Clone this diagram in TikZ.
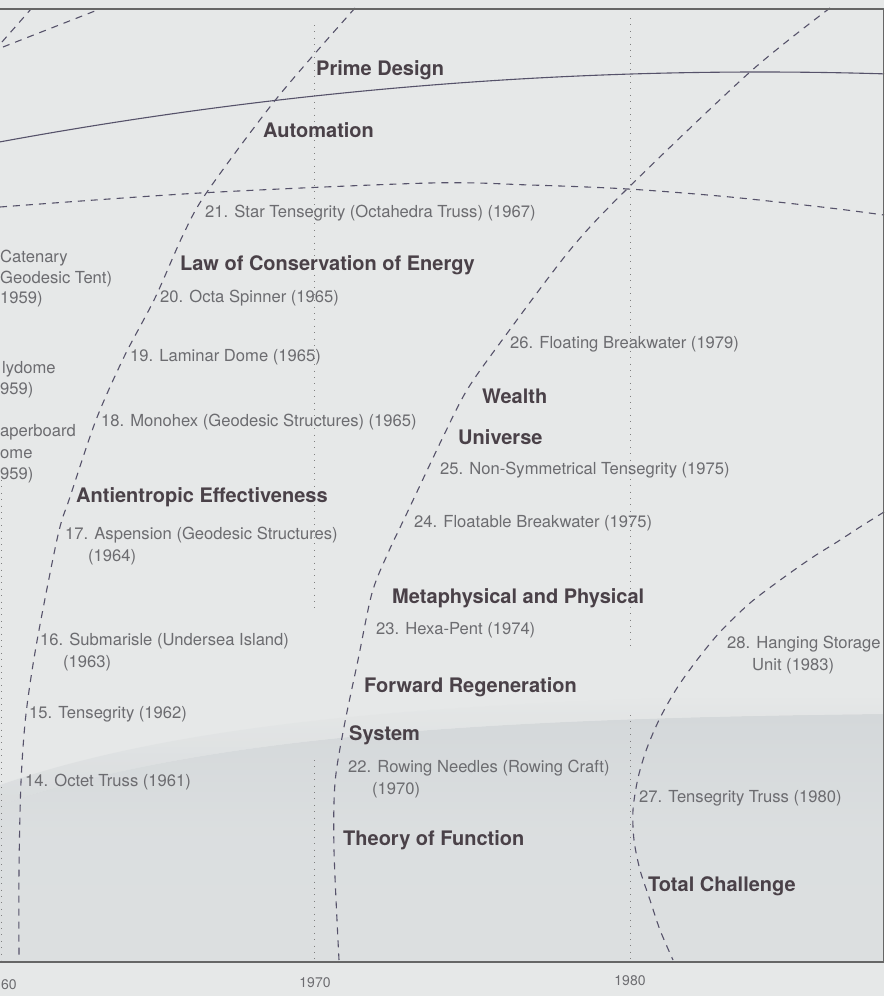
\documentclass[tikz,border=0pt]{standalone}
\usepackage{fontspec}
\setmainfont{TeX Gyre Heros}
\definecolor{arcline}{HTML}{56526A}
\definecolor{headtext}{HTML}{4A4148}
\definecolor{itemtext}{HTML}{6C6C70}
\definecolor{paper}{HTML}{E6E8E8}
\definecolor{shadowtop}{HTML}{D4D8DA}
\definecolor{shadowbottom}{HTML}{DCDFE0}

\begin{document}
\begin{tikzpicture}[x=1pt, y=-1pt,
    dashedarc/.style={arcline, line width=1.1pt, dash pattern=on 7pt off 6pt},
    yearline/.style={gray, line width=0.9pt, dash pattern=on 0.9pt off 5.5pt},
    heading/.style={headtext, font=\fontsize{20}{23}\selectfont\bfseries, anchor=west, inner sep=0pt},
    entry/.style={itemtext, font=\fontsize{16.6}{22}\selectfont, anchor=west, inner sep=0pt, align=left},
    yearlabel/.style={itemtext, font=\fontsize{14}{16}\selectfont, inner sep=0pt}]
    \useasboundingbox (0,0) rectangle (884,996);
    \fill[paper] (0,0) rectangle (884,996);
    \shade[top color=shadowtop, bottom color=shadowbottom, middle color=shadowtop!60!paper]
        (0,805) .. controls (200,735) and (500,718) .. (884,714) -- (884,962) -- (0,962) -- cycle;
    \shade[top color=paper, bottom color=shadowtop, opacity=0.7]
        (0,785) .. controls (200,715) and (500,698) .. (884,694) -- (884,714) .. controls (500,718) and (200,735) .. (0,805) -- cycle;

    \draw[yearline] (1,480) -- (1,960);
    \draw[yearline] (314,25) -- (314,610);
    \draw[yearline] (314,760) -- (314,960);
    \draw[yearline] (630,18) -- (630,650);
    \draw[yearline] (630,715) -- (630,960);

    \draw[arcline, line width=1.1pt, domain=0:884, samples=120, smooth, variable=\x]
        plot ({\x}, {72 + 1.21*((\x-760)/100)^2});

    \draw[dashedarc] plot[smooth] coordinates {(0,207) (200,193) (430,183) (530,185) (628,189) (730,197) (830,208) (884,215)};
    \draw[dashedarc] (2,42) -- (31,9);
    \draw[dashedarc] (3,47) -- (100,9);
    \draw[dashedarc] plot[smooth] coordinates {(355,8) (277,98) (207,192) (183,235) (155,298) (124,357) (96,420) (70,497) (58,535) (37,641) (26,714) (21,782) (19,870) (19,960)};
    \draw[dashedarc] plot[smooth] coordinates {(830,8) (750,72) (627,189) (570,250) (500,343) (467,390) (443,437) (407,513) (388,553) (372,593) (358,660) (344,727) (335,783) (334,850) (339,960)};
    \draw[dashedarc] plot[smooth] coordinates {(884,512) (860,527) (837,542) (813,557) (783,578) (750,603) (720,632) (697,660) (677,688) (660,718) (647,748) (638,778) (633,810) (634,840) (640,870) (650,900) (660,930) (673,960)};

    \draw[gray!80!black, line width=1.4pt] (0,9) -- (884,9);
    \draw[gray!80!black, line width=1.4pt] (0,962) -- (884,962);
    \draw[gray!80!black, line width=1pt] (883,9) -- (883,962);

    \node[heading] (prime) at (316,70) {Prime Design};
    \node[heading] (automation) at (263,130) {Automation};
    \node[entry] (n21) at (205,213) {21. Star Tensegrity (Octahedra Truss) (1967)};
    \node[heading] (law) at (180,265) {Law of Conservation of Energy};
    \node[entry] (n20) at (160,298) {20. Octa Spinner (1965)};
    \node[entry] (n19) at (130,357) {19. Laminar Dome (1965)};
    \node[entry] (n18) at (101,422) {18. Monohex (Geodesic Structures) (1965)};
    \node[entry] (catenary) at (0,258) {Catenary};
    \node[entry] (tent) at (0,279) {Geodesic Tent)};
    \node[entry] (year13) at (0,299) {1959)};
    \node[entry] (polydome) at (2,369) {lydome};
    \node[entry] (year12) at (0,390) {959)};
    \node[entry] (paperboard) at (0,432) {aperboard};
    \node[entry] (dome) at (0,454) {ome};
    \node[entry] (year11) at (0,475) {959)};
    \node[heading] (antientropic) at (76,497) {Antientropic Effectiveness};
    \node[entry] (n17) at (65,546) {17. Aspension (Geodesic Structures)\\\hspace*{23pt}(1964)};
    \node[entry] (n16) at (40,652) {16. Submarisle (Undersea Island)\\\hspace*{23pt}(1963)};
    \node[entry] (n15) at (29,714) {15. Tensegrity (1962)};
    \node[entry] (n14) at (25,782) {14. Octet Truss (1961)};
    \node[entry] (n26) at (510,344) {26. Floating Breakwater (1979)};
    \node[heading] (wealth) at (482,396) {Wealth};
    \node[heading] (universe) at (458,437) {Universe};
    \node[entry] (n25) at (440,470) {25. Non-Symmetrical Tensegrity (1975)};
    \node[entry] (n24) at (414,523) {24. Floatable Breakwater (1975)};
    \node[heading] (metaphysical) at (392,598) {Metaphysical and Physical};
    \node[entry] (n23) at (376,630) {23. Hexa-Pent (1974)};
    \node[entry] (n28) at (727,655) {28. Hanging Storage\\\hspace*{25pt}Unit (1983)};
    \node[heading] (forward) at (364,687) {Forward Regeneration};
    \node[heading] (system) at (349,735) {System};
    \node[entry] (n22) at (348,779) {22. Rowing Needles (Rowing Craft)\\\hspace*{24pt}(1970)};
    \node[entry] (n27) at (639,798) {27. Tensegrity Truss (1980)};
    \node[heading] (theory) at (343,840) {Theory of Function};
    \node[heading] (total) at (648,886) {Total Challenge};

    \node[yearlabel] (y1960) at (9,985) {60};
    \node[yearlabel] (y1970) at (315,983) {1970};
    \node[yearlabel] (y1980) at (630,981) {1980};
\end{tikzpicture}
\end{document}
